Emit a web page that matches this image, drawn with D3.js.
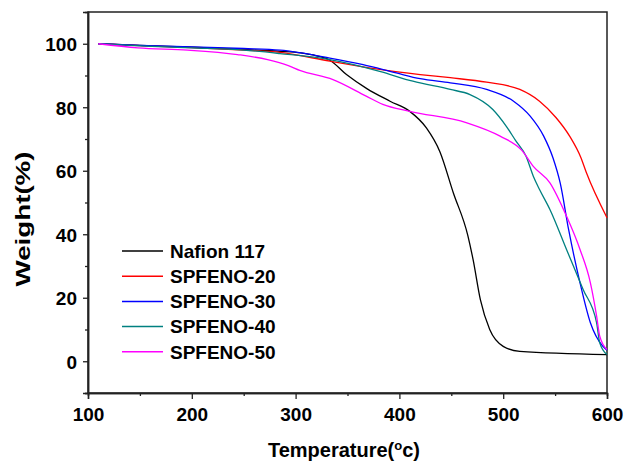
<!DOCTYPE html>
<html>
<head>
<meta charset="utf-8">
<script src="https://cdn.jsdelivr.net/npm/d3@7"></script>
<style>
  body { margin: 0; background: #fff; }
  text { font-family: Arial, "Liberation Sans", sans-serif; font-weight: bold; fill: #000; }
</style>
</head>
<body>
<svg id="chart" width="625" height="462"></svg>
<script>
// series names and colours
const seriesNames = ["Nafion 117", "SPFENO-20", "SPFENO-30", "SPFENO-40", "SPFENO-50"];
const seriesColors = ["#000000", "#ff0000", "#0000ff", "#008080", "#ff00ff"];

// TGA curves: [temperature, weight%]
const nafion = [[110,100],[150,99.5],[200,98.9],[250,98.2],[285,97.6],[305,97.1],[320,96.2],[333,94.8],[349,90.3],[369,85.8],[391,81.9],[410,78.7],[426,73.5],[439,66],[452,53],[466,39.5],[471,32],[478,19.4],[487,10],[500,4.7],[516,3.1],[600,2.1]];
const spfeno20 = [[110,100],[150,99.4],[200,98.8],[250,98],[285,97.3],[333,94.5],[381,91.9],[420,90.3],[449,89.3],[484,87.9],[516,85.6],[535,81.9],[551,76.7],[564,70.9],[575,64],[580,59.5],[600,45.2]];
const spfeno30 = [[110,100],[150,99.5],[200,99],[250,98.5],[285,98],[333,95.5],[365,93.4],[397,90.8],[420,89],[449,87.7],[484,85.6],[510,81.9],[526,77.2],[539,70.9],[548,64],[555,56],[563,41.5],[574,24.7],[584,12.1],[596,4.7],[600,3.5]];
const spfeno40 = [[110,100],[150,99.3],[200,98.7],[250,98],[285,96.9],[333,95],[381,91.3],[413,88.2],[449,85.6],[468,84],[490,79.3],[503,74],[512,69.5],[522,64.6],[529,58.3],[535,54.1],[545,47.8],[561,35.2],[577,22.6],[590,12.1],[593,5.8],[600,2.1]];
const spfeno50 = [[110,100],[148,98.7],[196,98],[244,96.6],[273,95],[293,93.1],[304,91.6],[336,88.7],[368,83.5],[384,80.9],[410,78.7],[465,75.1],[497,70.9],[518,66.4],[529,61.4],[545,56.2],[561,45.7],[574,35.2],[584,24.7],[590,14.2],[593,7.9],[600,3.7]];
const seriesData = [nafion, spfeno20, spfeno30, spfeno40, spfeno50];

// axes
const xDomain = [100, 600];
const yDomain = [-10, 110];
const xTicks = [100, 200, 300, 400, 500, 600];
const xMinorTicks = [150, 250, 350, 450, 550];
const yTicks = [0, 20, 40, 60, 80, 100];
const yMinorTicks = [-10, 10, 30, 50, 70, 90];

const margin = {top: 12, right: 18, bottom: 69, left: 88};
const width = 625 - margin.left - margin.right;
const height = 462 - margin.top - margin.bottom;

const svg = d3.select('#chart');
const g = svg.append('g').attr('transform', `translate(${margin.left},${margin.top})`);

const x = d3.scaleLinear().domain(xDomain).range([0, width]);
const y = d3.scaleLinear().domain(yDomain).range([height, 0]);

// frame
g.append('rect')
  .attr('width', width).attr('height', height)
  .attr('fill', 'none').attr('stroke', '#222').attr('stroke-width', 1.5);

// major + minor ticks
const xAxis = g.append('g').attr('transform', `translate(0,${height})`)
  .call(d3.axisBottom(x).tickValues(xTicks).tickSize(6).tickPadding(5));
g.append('g').attr('transform', `translate(0,${height})`)
  .call(d3.axisBottom(x).tickValues(xMinorTicks).tickSize(3).tickFormat(''));
const yAxis = g.append('g')
  .call(d3.axisLeft(y).tickValues(yTicks).tickSize(5).tickPadding(6));
g.append('g')
  .call(d3.axisLeft(y).tickValues(yMinorTicks).tickSize(3).tickFormat(''));

g.selectAll('.domain').attr('stroke', '#222').attr('stroke-width', 1.5);
g.selectAll('.tick line').attr('stroke', '#222').attr('stroke-width', 1.3);
g.selectAll('.tick text')
  .style('font-family', 'Arial, "Liberation Sans", sans-serif')
  .style('font-weight', 'bold')
  .style('font-size', '19px')
  .attr('fill', '#000');
xAxis.selectAll('.tick text').attr('dy', '0.9em');
yAxis.selectAll('.tick text').attr('dy', '0.36em');

// curves
const line = d3.line()
  .x(d => x(d[0]))
  .y(d => y(d[1]))
  .curve(d3.curveMonotoneX);

g.selectAll('path.series')
  .data(seriesData)
  .enter()
  .append('path')
  .attr('class', 'series')
  .attr('d', d => line(d))
  .attr('fill', 'none')
  .attr('stroke', (d, i) => seriesColors[i])
  .attr('stroke-width', 1.3);

// legend
const legend = g.append('g').attr('transform', 'translate(34,239)');
const legItem = legend.selectAll('g.item')
  .data(seriesNames)
  .enter()
  .append('g')
  .attr('class', 'item')
  .attr('transform', (d, i) => `translate(0,${i * 25.2})`);
legItem.append('line')
  .attr('x1', 0).attr('x2', 41)
  .attr('stroke', (d, i) => seriesColors[i])
  .attr('stroke-width', 1.5);
legItem.append('text')
  .attr('x', 48).attr('dy', '0.36em')
  .style('font-size', '19px')
  .text(d => d);

// axis titles
const xTitle = svg.append('text')
  .attr('x', 344)
  .attr('y', 457)
  .attr('text-anchor', 'middle')
  .style('font-size', '20px');
xTitle.append('tspan').text('Temperature(');
xTitle.append('tspan').attr('dy', '-7').style('font-size', '13px').text('o');
xTitle.append('tspan').attr('dy', '7').text('c)');

svg.append('text')
  .attr('transform', 'translate(30,219) rotate(-90)')
  .attr('text-anchor', 'middle')
  .attr('textLength', 135)
  .attr('lengthAdjust', 'spacingAndGlyphs')
  .style('font-size', '21px')
  .text('Weight(%)');
</script>
</body>
</html>
